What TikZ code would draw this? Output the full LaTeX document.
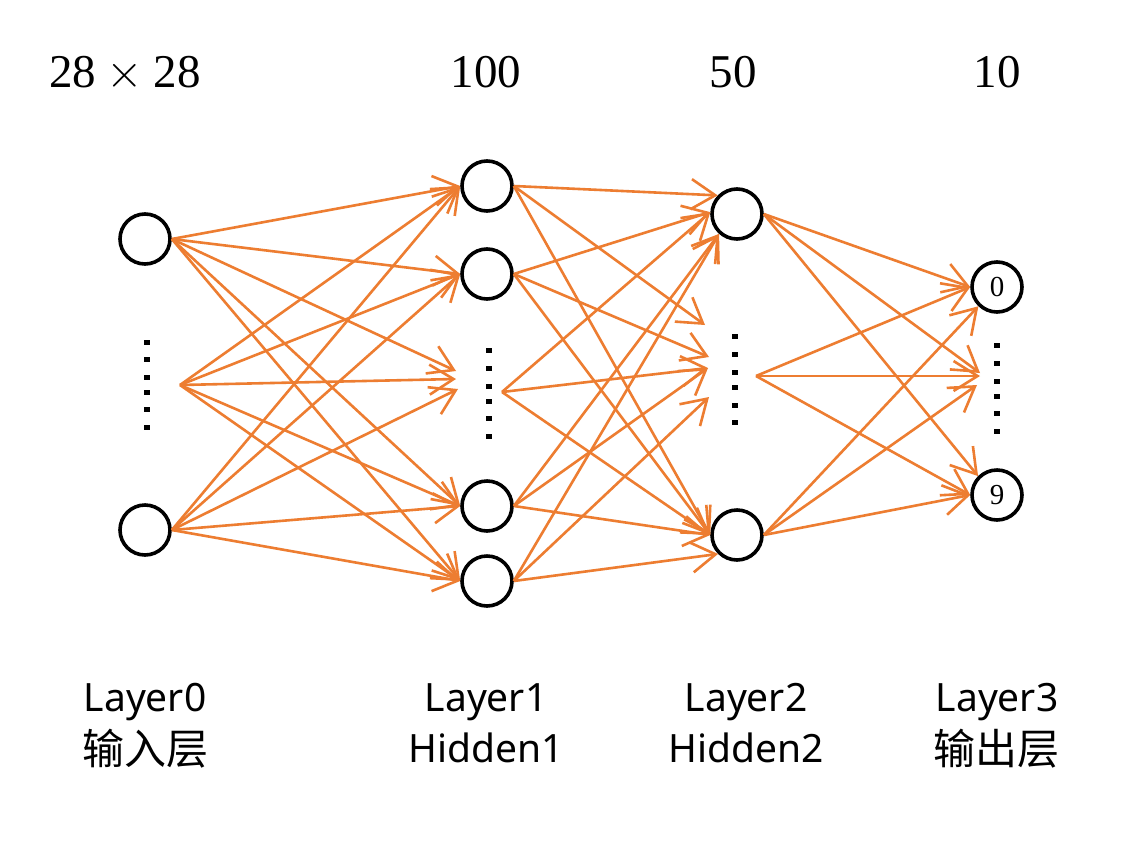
\documentclass[tikz,border=0pt]{standalone}
\usepackage{fix-cm}
\usepackage{fontspec}
\newfontfamily\cjk{Noto Sans CJK SC}
\newfontfamily\lsans{Noto Sans}
\newfontfamily\numserif{Liberation Serif}
\usetikzlibrary{arrows.meta}
\definecolor{edgeor}{RGB}{237,125,49}
\begin{document}
\begin{tikzpicture}[x=1pt,y=-1pt,
 neuron/.style={circle,draw=black,line width=3.6pt,minimum size=50pt,inner sep=0pt,font=\numserif\fontsize{29}{33}\selectfont},
 conn/.style={draw=edgeor,line width=2.6pt,-{Straight Barb[length=24pt,width=30pt]}},
 dotsq/.style={fill=black,minimum width=6pt,minimum height=5pt,inner sep=0pt},
 toplabel/.style={anchor=base,font=\numserif\fontsize{47}{56}\selectfont},
 latlabel/.style={anchor=base,font=\lsans\fontsize{39}{46}\selectfont},
 cjklabel/.style={anchor=base,font=\cjk\fontsize{42}{50}\selectfont}]
\fill[white] (0,0) rectangle (1146,844);
\useasboundingbox (0,0) rectangle (1146,844);

% top labels
\node[toplabel] (t0) at (125,87) {28${}\times{}$28};
\node[toplabel] (t1) at (486,87) {100};
\node[toplabel] (t2) at (733,87) {50};
\node[toplabel] (t3) at (997,87) {10};

% neurons
\node[neuron] (A) at (145,239) {};
\node[neuron] (B) at (145,530) {};
\node[neuron] (n1) at (487,186) {};
\node[neuron] (n2) at (487,274) {};
\node[neuron] (n3) at (487,506) {};
\node[neuron] (n4) at (487,581) {};
\node[neuron] (m1) at (737,214) {};
\node[neuron] (m2) at (737,535) {};
\node[neuron] (o0) at (997,287) {0};
\node[neuron] (o9) at (997,495) {9};

% vertical dots
\foreach \y [count=\i] in {342,359,377,392,409,427} \node[dotsq] (da\i) at (147,\y) {};
\foreach \y [count=\i] in {350,368,386,401,418,436} \node[dotsq] (db\i) at (489,\y) {};
\foreach \y [count=\i] in {336,354,372,387,405,422} \node[dotsq] (dc\i) at (735,\y) {};
\foreach \y [count=\i] in {345,363,381,396,413,431} \node[dotsq] (dd\i) at (997,\y) {};

% connector ends at the dotted groups
\coordinate (s0) at (180,385);
\coordinate (s1) at (502,392);
\coordinate (s2) at (756,376);
\coordinate (p1) at (456,371);
\coordinate (p2) at (456,379);
\coordinate (p3) at (458,389);
\coordinate (q1) at (705,325);
\coordinate (q2) at (709,357);
\coordinate (q3) at (708,368);
\coordinate (q4) at (709,397);
\coordinate (r1) at (980,373);
\coordinate (r2) at (980,376);
\coordinate (r3) at (977,385);

% layer 0 -> layer 1
\foreach \s/\p in {A.east/p1, s0/p2, B.east/p3}{
  \draw[conn] (\s) -- (n1.west);
  \draw[conn] (\s) -- (n2.west);
  \draw[conn] (\s) -- (\p);
  \draw[conn] (\s) -- (n3.west);
  \draw[conn] (\s) -- (n4.west);
}

% layer 1 -> layer 2
\draw[conn] (n1.east) -- (m1.136);
\draw[conn] (n1.east) -- (q1);
\draw[conn] (n1.east) -- (m2.west);
\draw[conn] (n2.east) -- (m1.176);
\draw[conn] (n2.east) -- (q2);
\draw[conn] (n2.east) -- (m2.west);
\draw[conn] (s1) -- (m1.176);
\draw[conn] (s1) -- (q3);
\draw[conn] (s1) -- (m2.west);
\draw[conn] (n3.east) -- (m1.228);
\draw[conn] (n3.east) -- (q3);
\draw[conn] (n3.east) -- (m2.west);
\draw[conn] (n4.east) -- (m1.228);
\draw[conn] (n4.east) -- (q4);
\draw[conn] (n4.east) -- (m2.225);

% layer 2 -> layer 3
\draw[conn] (m1.east) -- (o0.west);
\draw[conn] (m1.east) -- (r1);
\draw[conn] (m1.east) -- (o9.135);
\draw[conn] (s2) -- (o0.west);
\draw[conn] (s2) -- (r2);
\draw[conn] (s2) -- (o9.west);
\draw[conn] (m2.east) -- (o0.226);
\draw[conn] (m2.east) -- (r3);
\draw[conn] (m2.east) -- (o9.west);

% bottom labels
\node[latlabel] (b0a) at (145,711) {Layer0};
\node[cjklabel] (b0b) at (145,764) {输入层};
\node[latlabel] (b1a) at (486,711) {Layer1};
\node[latlabel] (b1b) at (486,762) {Hidden1};
\node[latlabel] (b2a) at (746,711) {Layer2};
\node[latlabel] (b2b) at (746,762) {Hidden2};
\node[latlabel] (b3a) at (997,711) {Layer3};
\node[cjklabel] (b3b) at (996,764) {输出层};
\end{tikzpicture}
\end{document}
